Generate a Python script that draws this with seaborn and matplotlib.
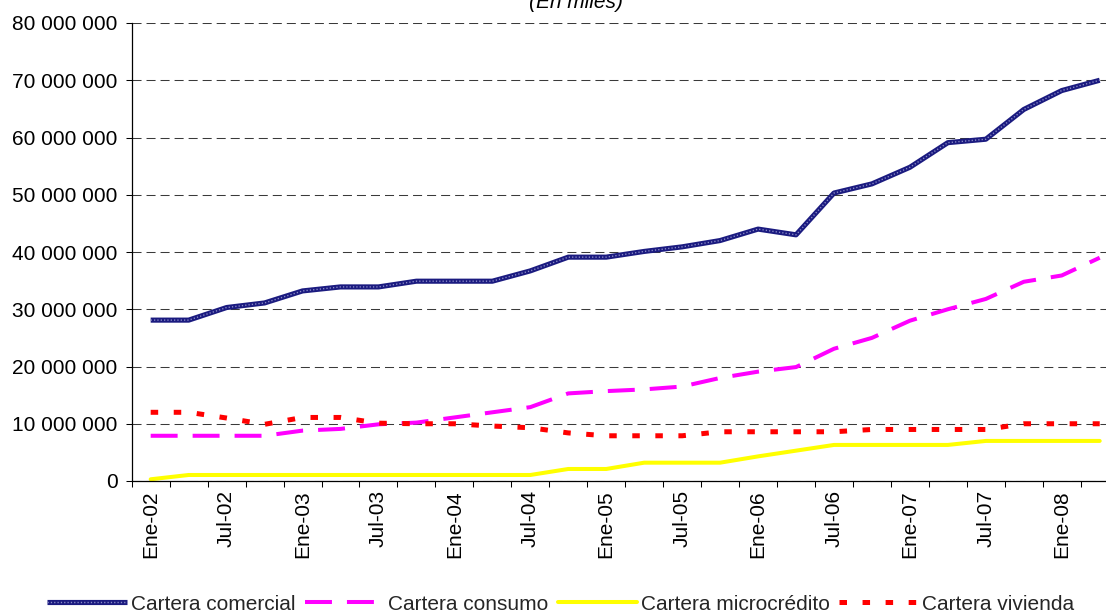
import numpy as np
import pandas as pd
import matplotlib
matplotlib.use("Agg")
import matplotlib.pyplot as plt
import seaborn as sns
from matplotlib.ticker import FixedLocator, FuncFormatter
from matplotlib.legend_handler import HandlerTuple

# ---------------- data (values in miles) ----------------
periodos = ["Ene-02", "Abr-02", "Jul-02", "Oct-02",
            "Ene-03", "Abr-03", "Jul-03", "Oct-03",
            "Ene-04", "Abr-04", "Jul-04", "Oct-04",
            "Ene-05", "Abr-05", "Jul-05", "Oct-05",
            "Ene-06", "Abr-06", "Jul-06", "Oct-06",
            "Ene-07", "Abr-07", "Jul-07", "Oct-07",
            "Ene-08", "Abr-08"]

comercial = [28.1, 28.1, 30.3, 31.1, 33.2, 33.9, 33.9, 34.9, 34.9, 34.9,
             36.7, 39.1, 39.1, 40.1, 40.9, 42.0, 44.0, 43.0, 50.3, 51.9,
             54.8, 59.1, 59.7, 64.9, 68.2, 70.0]
consumo = [7.9, 7.9, 7.9, 7.9, 8.8, 9.1, 9.9, 10.2, 11.1, 12.0,
           12.9, 15.3, 15.7, 16.0, 16.5, 18.0, 19.1, 19.9, 23.1, 25.0,
           28.0, 30.0, 31.8, 34.8, 35.9, 39.0]
microcredito = [0.3, 1.05, 1.05, 1.05, 1.05, 1.05, 1.05, 1.05, 1.05, 1.05,
                1.05, 2.1, 2.1, 3.2, 3.2, 3.2, 4.3, 5.3, 6.3, 6.3,
                6.3, 6.3, 7.0, 7.0, 7.0, 7.0]
vivienda = [12.0, 12.0, 11.0, 9.9, 11.1, 11.1, 10.1, 10.0, 10.0, 9.6,
            9.3, 8.4, 7.9, 7.9, 7.9, 8.6, 8.6, 8.6, 8.6, 9.0,
            9.0, 9.0, 9.0, 10.0, 10.0, 10.0]

series_labels = ["Cartera comercial", "Cartera consumo",
                 "Cartera microcrédito", "Cartera vivienda"]
y_ticks = [0, 10e6, 20e6, 30e6, 40e6, 50e6, 60e6, 70e6, 80e6]
titulo = "(En miles)"

MILLON = 1e6
df = pd.DataFrame({
    "idx": np.arange(len(periodos)),
    "periodo": periodos,
    "comercial": np.array(comercial) * MILLON,
    "consumo": np.array(consumo) * MILLON,
    "microcredito": np.array(microcredito) * MILLON,
    "vivienda": np.array(vivienda) * MILLON,
})

# ---------------- style ----------------
sns.set_theme(style="white")
plt.rcParams["font.family"] = ["Liberation Sans", "DejaVu Sans"]
plt.rcParams["lines.scale_dashes"] = False
FS = 15

W, H = 1106, 614
fig = plt.figure(figsize=(W / 100, H / 100), dpi=100)
fig.patch.set_facecolor("white")
left, right, top, bottom = 131.7, 1118.7, 23, 481
ax = fig.add_axes([left / W, 1 - bottom / H, (right - left) / W, (bottom - top) / H])
ax.set_facecolor("white")

# commercial: navy textured line (dark base + light dotted overlay)
sns.lineplot(data=df, x="idx", y="comercial", ax=ax, color="#1b1b80",
             linewidth=3.7, legend=False, sort=False)
l_com = ax.lines[-1]
l_com.set_solid_capstyle("butt")
sns.lineplot(data=df, x="idx", y="comercial", ax=ax, color="#8c8cc8",
             linewidth=1.0, legend=False, sort=False)
l_com2 = ax.lines[-1]
l_com2.set_linestyle((0, (0.9, 1.5)))

sns.lineplot(data=df, x="idx", y="consumo", ax=ax, color="#ff00ff",
             linewidth=2.9, legend=False, sort=False)
l_con = ax.lines[-1]
l_con.set_linestyle((0, (19.4, 10.8)))
l_con.set_dash_capstyle("butt")

sns.lineplot(data=df, x="idx", y="microcredito", ax=ax, color="#ffff00",
             linewidth=2.9, legend=False, sort=False)
l_mic = ax.lines[-1]

sns.lineplot(data=df, x="idx", y="vivienda", ax=ax, color="#ff0000",
             linewidth=3.6, legend=False, sort=False)
l_viv = ax.lines[-1]
l_viv.set_linestyle((0, (5.4, 11.2)))
l_viv.set_dash_capstyle("butt")

# ---------------- axes ----------------
ax.set_xlim(-0.5, len(periodos) - 0.5)
ax.set_ylim(0, 80e6)
ax.set_xlabel("")
ax.set_ylabel("")

major_pos = list(range(0, len(periodos), 2))
ax.xaxis.set_major_locator(FixedLocator(major_pos))
ax.set_xticklabels([periodos[i] for i in major_pos], rotation=90, fontsize=FS)
ax.xaxis.set_minor_locator(FixedLocator(np.arange(-0.5, len(periodos), 1.0)))
ax.tick_params(axis="x", which="major", length=0, pad=6.5, colors="black",
               labelsize=FS)
ax.tick_params(axis="x", which="minor", length=4.2, width=0.75, direction="out",
               color="black")

ax.yaxis.set_major_locator(FixedLocator(y_ticks))
ax.yaxis.set_major_formatter(FuncFormatter(lambda v, p: f"{int(round(v)):,}".replace(",", " ")))
ax.tick_params(axis="y", which="major", length=4.0, width=0.75, direction="out",
               pad=6.3, colors="black", labelsize=FS)
ax.tick_params(bottom=True, left=True, which="both")

ax.grid(axis="y", color="#3a3a3a", linewidth=0.75, linestyle=(0, (6.5, 3.6)))
ax.grid(axis="x", visible=False)
ax.set_axisbelow(True)

for s in ["top", "right"]:
    ax.spines[s].set_visible(False)
for s in ["left", "bottom"]:
    ax.spines[s].set_visible(True)
    ax.spines[s].set_color("black")
    ax.spines[s].set_linewidth(0.9)

# ---------------- title ----------------
fig.text(576 / W, 1 - 8 / H, titulo, ha="center", va="baseline",
         fontsize=FS, fontstyle="italic", color="black")

# ---------------- legend ----------------
handles = [(l_com, l_com2), l_con, l_mic, l_viv]
fig.legend(handles, series_labels, loc="center",
           bbox_to_anchor=(561 / W, 1 - 604 / H), ncol=4, frameon=False,
           fontsize=FS, handlelength=3.8, handletextpad=0.2,
           columnspacing=0.45, borderpad=0, borderaxespad=0,
           handler_map={tuple: HandlerTuple(ndivide=1, pad=0)})

fig.savefig("out.png", dpi=100, facecolor="white")
